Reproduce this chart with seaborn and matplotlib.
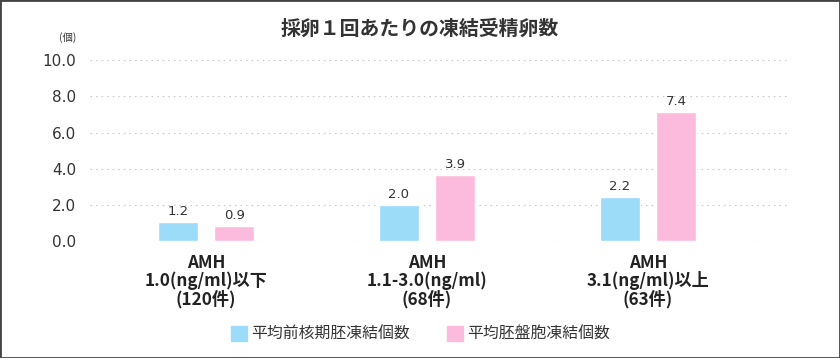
import matplotlib
matplotlib.use('Agg')
import matplotlib.pyplot as plt
from matplotlib.patches import Rectangle
import seaborn as sns
import pandas as pd

# categories and series
categories = ['AMH\n1.0(ng/ml)以下\n(120件)', 'AMH\n1.1-3.0(ng/ml)\n(68件)', 'AMH\n3.1(ng/ml)以上\n(63件)']
series = ['平均前核期胚凍結個数', '平均胚盤胞凍結個数']
# bar heights as drawn in the picture
pn_heights = [1.06, 2.0, 2.46]
bl_heights = [0.86, 3.66, 7.13]
# value labels printed above the bars
pn_labels = ['1.2', '2.0', '2.2']
bl_labels = ['0.9', '3.9', '7.4']
yticks = [0, 2, 4, 6, 8, 10]

colors = ['#9cdcf9', '#fcbbdc']

sns.set_theme(style='white')
plt.rcParams['font.family'] = ['Noto Sans CJK JP', 'DejaVu Sans']

df = pd.DataFrame({
    'cat': categories * 2,
    'series': [series[0]] * 3 + [series[1]] * 3,
    'value': pn_heights + bl_heights,
})

fig = plt.figure(figsize=(8.4, 3.58), dpi=100)
ax = fig.add_axes([90 / 840, 1 - 241.3 / 358, 700 / 840, 181.3 / 358])

sns.barplot(data=df, x='cat', y='value', hue='series', order=categories,
            hue_order=series, palette=colors, width=0.508, gap=0.287,
            saturation=1, ax=ax, legend=False, zorder=3)

for cont, labs in zip(ax.containers, [pn_labels, bl_labels]):
    ax.bar_label(cont, labels=labs, padding=3, fontsize=9.5, color='#333333',
                 family='DejaVu Sans')

ax.set_ylim(0, 10)
ax.set_xlim(-0.525, 2.643)
ax.set_yticks(yticks)
ax.set_yticklabels([f'{v:.1f}' for v in yticks], fontsize=11, color='#333333',
                   family='DejaVu Sans')
ax.set_xticks(range(len(categories)))
ax.set_xticklabels(categories, fontsize=12.3, fontweight='bold', color='#222222',
                   linespacing=0.97)
ax.tick_params(axis='y', length=0, pad=10)
ax.tick_params(axis='x', length=0, pad=9)
ax.set_xlabel('')
ax.set_ylabel('')
for s in ax.spines.values():
    s.set_visible(False)
ax.yaxis.grid(True, color='#c8c8c8', linestyle=(0, (1.4, 3.6)), linewidth=0.8, zorder=0)
ax.set_axisbelow(True)

fig.text(68 / 840, 1 - 38 / 358, '(個)', fontsize=7.5, ha='center', va='center', color='#333333')
fig.suptitle('採卵１回あたりの凍結受精卵数', x=0.5, y=1 - 28 / 358, va='center',
             fontsize=14.3, fontweight='bold', color='#333333')

handles = [Rectangle((0, 0), 1, 1, color=c) for c in colors]
fig.legend(handles, series, loc='center', bbox_to_anchor=(420.5 / 840, 1 - 334.5 / 358),
           ncol=2, frameon=False, fontsize=11.4, handlelength=1.0, handleheight=1.0,
           handletextpad=0.25, columnspacing=2.4, labelcolor='#333333')

fig.patches.append(Rectangle((0, 0), 1, 1, transform=fig.transFigure, fill=False,
                             edgecolor='#444444', linewidth=2))

fig.savefig('out.png', dpi=100)
